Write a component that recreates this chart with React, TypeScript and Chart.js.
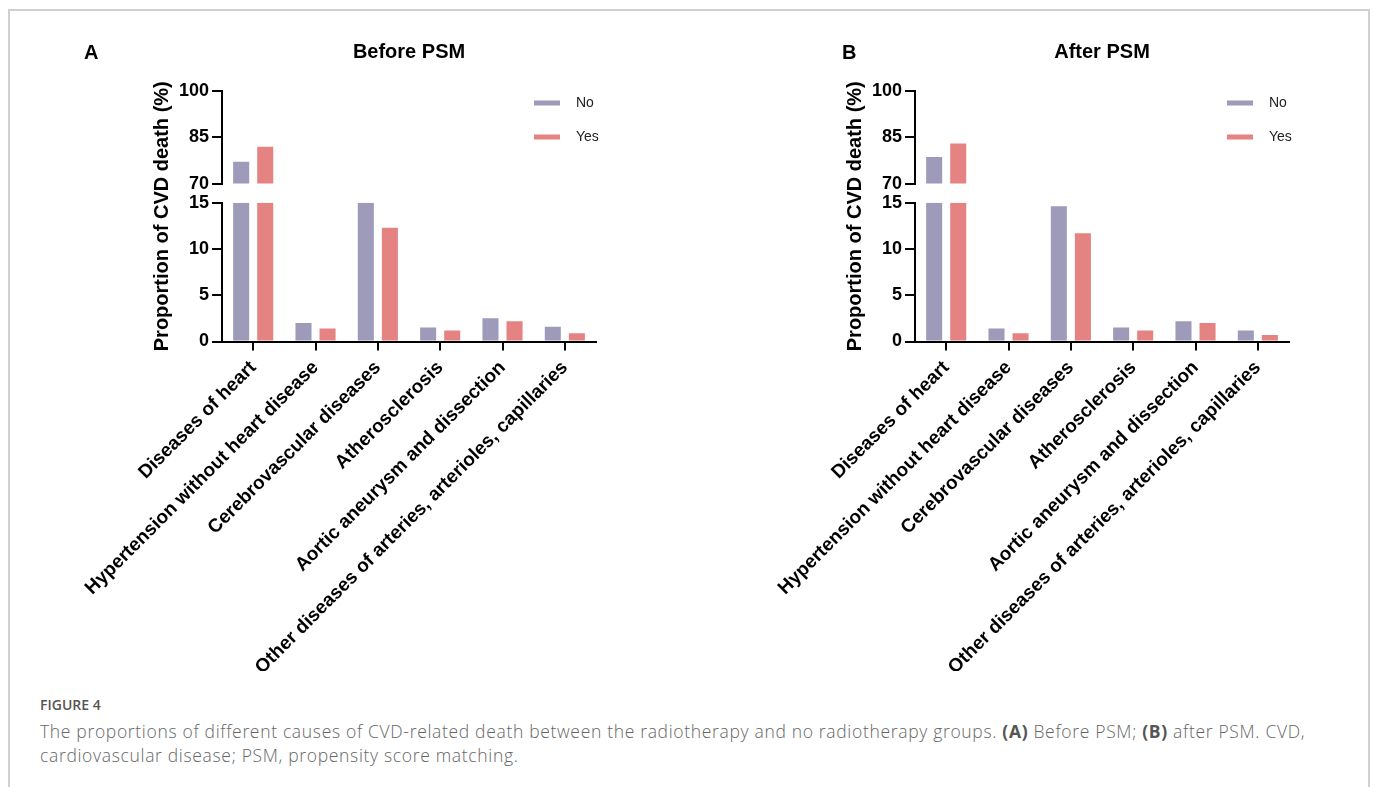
import React, { useEffect, useRef } from "react";
import { Chart, registerables } from "chart.js";

Chart.register(...registerables);

const categories = [
  "Diseases of heart",
  "Hypertension without heart disease",
  "Cerebrovascular diseases",
  "Atherosclerosis",
  "Aortic aneurysm and dissection",
  "Other diseases of arteries, arterioles, capillaries",
];
const seriesNames = ["No", "Yes"];
const beforeNo = [77.1, 2.0, 15.1, 1.5, 2.5, 1.6];
const beforeYes = [81.9, 1.4, 12.3, 1.2, 2.2, 0.9];
const afterNo = [78.6, 1.4, 14.6, 1.5, 2.2, 1.2];
const afterYes = [83.0, 0.9, 11.7, 1.2, 2.0, 0.7];
const lowerTicks = [0, 5, 10, 15];
const upperTicks = [70, 85, 100];

const NO_COLOR = "#9d9aba";
const YES_COLOR = "#e58282";
const FONT = "'Liberation Sans', Arial, Helvetica, sans-serif";

const insideLegend = {
  id: "insideLegend",
  afterDraw(chart: any) {
    const { ctx, chartArea } = chart;
    const items = chart.data.datasets.filter((d: any) => d.yAxisID === "yLow");
    ctx.save();
    items.forEach((ds: any, i: number) => {
      const y = chartArea.top + 12 + i * 34;
      ctx.fillStyle = ds.backgroundColor;
      ctx.fillRect(chartArea.right - 62, y - 2.5, 26, 5);
      ctx.fillStyle = "#222";
      ctx.font = `14px ${FONT}`;
      ctx.textBaseline = "middle";
      ctx.textAlign = "left";
      ctx.fillText(ds.label, chartArea.right - 20, y);
    });
    ctx.restore();
  },
};

function Panel({ title, no, yes, left }: { title: string; no: number[]; yes: number[]; left: number }) {
  const ref = useRef<HTMLCanvasElement>(null);
  useEffect(() => {
    if (!ref.current) return;
    const lowMax = lowerTicks[lowerTicks.length - 1];
    const highMin = upperTicks[0];
    const low = (arr: number[]) => arr.map((v) => Math.min(v, lowMax));
    const high = (arr: number[]) => arr.map((v) => (v >= highMin ? v : null));
    const tickFont = { family: FONT, size: 18, weight: "bold" as const };
    const axisGrid = {
      display: true,
      drawOnChartArea: false,
      drawTicks: true,
      tickLength: 10,
      color: "#000",
      lineWidth: 2,
    };
    const chart = new Chart(ref.current, {
      type: "bar",
      data: {
        labels: categories,
        datasets: [
          { label: seriesNames[0], data: low(no), yAxisID: "yLow", stack: "No", backgroundColor: NO_COLOR },
          { label: seriesNames[1], data: low(yes), yAxisID: "yLow", stack: "Yes", backgroundColor: YES_COLOR },
          { label: seriesNames[0], data: high(no), yAxisID: "yHigh", stack: "No", backgroundColor: NO_COLOR },
          { label: seriesNames[1], data: high(yes), yAxisID: "yHigh", stack: "Yes", backgroundColor: YES_COLOR },
        ] as any,
      },
      options: {
        responsive: false,
        animation: false,
        categoryPercentage: 0.772,
        barPercentage: 0.667,
        layout: { padding: { left: 86, right: 160, top: 0, bottom: 0 } },
        plugins: {
          legend: { display: false },
          tooltip: { enabled: false },
          title: {
            display: true,
            fullSize: false,
            text: title,
            color: "#000",
            font: { family: FONT, size: 20, weight: "bold" },
            padding: { top: 28, bottom: 27 },
          },
        },
        scales: {
          x: {
            type: "category",
            offset: true,
            grid: { ...axisGrid, tickLength: 9, offset: false },
            border: { display: true, color: "#000", width: 2 },
            ticks: {
              autoSkip: false,
              minRotation: 45,
              maxRotation: 45,
              color: "#000",
              padding: 6,
              font: { family: FONT, size: 19, weight: "bold" },
            },
          },
          yLow: {
            type: "linear",
            position: "left",
            stack: "y",
            stackWeight: 138,
            weight: 1,
            stacked: false,
            min: lowerTicks[0],
            max: lowerTicks[lowerTicks.length - 1],
            afterBuildTicks: (s: any) => {
              s.ticks = lowerTicks.map((v) => ({ value: v }));
            },
            grid: axisGrid,
            border: { display: true, color: "#000", width: 2 },
            ticks: { color: "#000", padding: 3, font: tickFont },
          },
          yGap: {
            type: "linear",
            position: "left",
            stack: "y",
            stackWeight: 19,
            weight: 2,
            min: 0,
            max: 1,
            grid: { display: false },
            border: { display: false },
            ticks: { display: false },
          },
          yHigh: {
            type: "linear",
            position: "left",
            stack: "y",
            stackWeight: 92,
            weight: 3,
            stacked: false,
            min: upperTicks[0],
            max: upperTicks[upperTicks.length - 1],
            afterBuildTicks: (s: any) => {
              s.ticks = upperTicks.map((v) => ({ value: v }));
            },
            grid: axisGrid,
            border: { display: true, color: "#000", width: 2 },
            ticks: { color: "#000", padding: 3, font: tickFont },
          },
          yTitle: {
            type: "linear",
            position: "left",
            weight: 10,
            min: 0,
            max: 1,
            grid: { display: false },
            border: { display: false },
            ticks: { display: false },
            title: {
              display: true,
              text: "Proportion of CVD death (%)",
              color: "#000",
              font: { family: FONT, size: 20, weight: "bold" },
              padding: { top: 4, bottom: -6 },
            },
          },
        } as any,
      },
      plugins: [insideLegend],
    });
    return () => chart.destroy();
  }, [title, no, yes]);
  return (
    <canvas
      ref={ref}
      width={696}
      height={659}
      style={{ position: "absolute", left, top: 12, width: 696, height: 659 }}
    />
  );
}

export default function App() {
  const label: React.CSSProperties = {
    position: "absolute",
    fontFamily: FONT,
    fontWeight: "bold",
    fontSize: 20,
    color: "#000",
    lineHeight: "24px",
  };
  return (
    <div
      style={{
        position: "absolute",
        left: 0,
        top: 0,
        width: 1375,
        height: 787,
        overflow: "hidden",
        background: "#fff",
      }}
    >
      <div
        style={{
          position: "absolute",
          left: 8,
          top: 9,
          width: 1362,
          height: 800,
          border: "2px solid #d0d0d0",
          boxSizing: "border-box",
        }}
      />
      <Panel title="Before PSM" no={beforeNo} yes={beforeYes} left={60} />
      <Panel title="After PSM" no={afterNo} yes={afterYes} left={753} />
      <div style={{ ...label, left: 84, top: 40 }}>A</div>
      <div style={{ ...label, left: 842, top: 40 }}>B</div>
      <div
        style={{
          position: "absolute",
          left: 40,
          top: 695,
          fontFamily: "'Open Sans', 'Noto Sans', sans-serif",
          fontSize: 14,
          fontWeight: 600,
          color: "#555",
          lineHeight: "20px",
        }}
      >
        FIGURE 4
      </div>
      <div
        style={{
          position: "absolute",
          left: 40,
          top: 719,
          width: 1320,
          fontFamily: "'Open Sans', 'Noto Sans', sans-serif",
          fontSize: 17.5,
          fontWeight: 300,
          letterSpacing: 0.67,
          color: "#666",
          lineHeight: "24px",
          whiteSpace: "nowrap",
        }}
      >
        The proportions of different causes of CVD-related death between the radiotherapy and no radiotherapy groups.{" "}
        <b style={{ fontWeight: 700, color: "#555" }}>(A)</b> Before PSM; <b style={{ fontWeight: 700, color: "#555" }}>(B)</b> after PSM. CVD,
        <br />
        cardiovascular disease; PSM, propensity score matching.
      </div>
    </div>
  );
}
